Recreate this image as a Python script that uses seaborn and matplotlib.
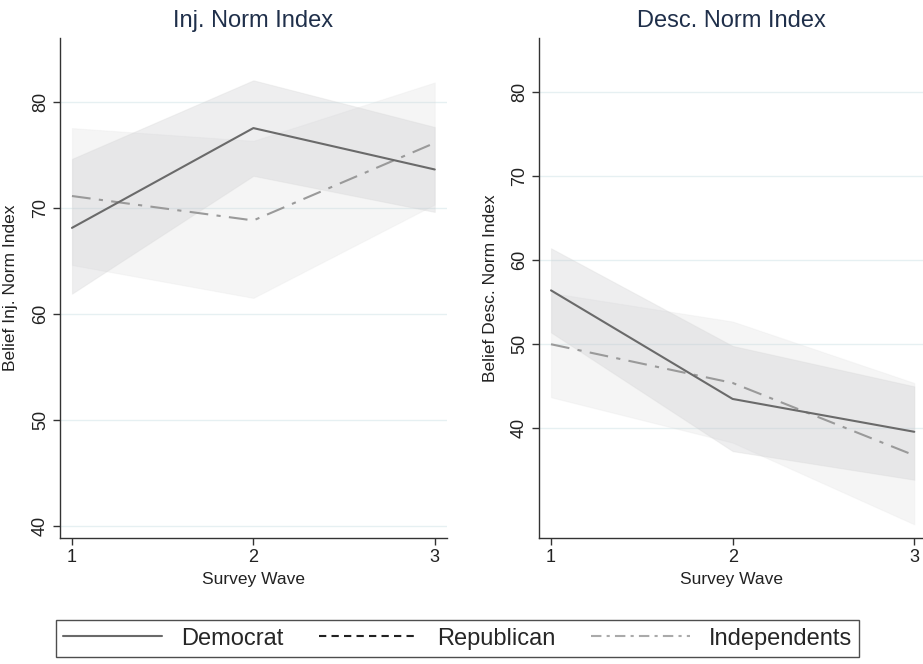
import numpy as np
import pandas as pd
import matplotlib
matplotlib.use("Agg")
import matplotlib.pyplot as plt
import seaborn as sns
from matplotlib.lines import Line2D

waves = [1, 2, 3]
groups = ["Democrat", "Republican", "Independents"]

# Injunctive norm index
inj_dem = [68.1, 77.5, 73.6]
inj_dem_lo = [61.9, 73.0, 69.6]
inj_dem_hi = [74.6, 82.0, 77.6]
inj_ind = [71.1, 68.8, 76.1]
inj_ind_lo = [64.6, 61.5, 70.3]
inj_ind_hi = [77.5, 76.3, 81.8]

# Descriptive norm index
desc_dem = [56.4, 43.5, 39.6]
desc_dem_lo = [51.4, 37.3, 33.9]
desc_dem_hi = [61.4, 49.8, 45.0]
desc_ind = [50.0, 45.4, 36.8]
desc_ind_lo = [43.7, 38.3, 28.6]
desc_ind_hi = [56.1, 52.7, 45.4]

titles = ["Inj. Norm Index", "Desc. Norm Index"]
ylabels = ["Belief Inj. Norm Index", "Belief Desc. Norm Index"]
yticks = [[40, 50, 60, 70, 80], [40, 50, 60, 70, 80]]

sns.set_theme(style="white")
plt.rcParams['font.family'] = ['Liberation Sans', 'DejaVu Sans']

fig = plt.figure(figsize=(9.23, 6.64), dpi=100)
ax1 = fig.add_axes([0.065, 0.19, 0.419, 0.753])
ax2 = fig.add_axes([0.584, 0.19, 0.416, 0.753])

dem_col = "#6a6a6a"
ind_col = "#9a9a9a"

panels = [
    (ax1, inj_dem, inj_dem_lo, inj_dem_hi, inj_ind, inj_ind_lo, inj_ind_hi, (38.9, 86.0), (0.934, 3.066)),
    (ax2, desc_dem, desc_dem_lo, desc_dem_hi, desc_ind, desc_ind_lo, desc_ind_hi, (27.0, 86.4), (0.934, 3.048)),
]

for i, (ax, dm, dlo, dhi, im, ilo, ihi, ylim, xlim) in enumerate(panels):
    for t in yticks[i]:
        ax.axhline(t, color="#e6f0f2", lw=1.0, zorder=0)
    ax.fill_between(waves, ilo, ihi, color="#d0d0d0", alpha=0.2, lw=0.8, edgecolor="#e0e0e0", zorder=1)
    ax.fill_between(waves, dlo, dhi, color="#c4c4c8", alpha=0.28, lw=0.8, edgecolor="#d6d6d6", zorder=2)
    df = pd.DataFrame({"wave": waves * 2,
                       "val": dm + im,
                       "grp": ["Democrat"] * 3 + ["Independents"] * 3})
    sns.lineplot(data=df[df.grp == "Democrat"], x="wave", y="val", ax=ax,
                 color=dem_col, lw=1.5, zorder=4, legend=False)
    sns.lineplot(data=df[df.grp == "Independents"], x="wave", y="val", ax=ax,
                 color=ind_col, lw=1.5, zorder=3, legend=False, dashes=False,
                 linestyle=(0, (9, 4, 2, 4)))
    ax.set_ylim(*ylim)
    ax.set_xlim(*xlim)
    ax.set_xticks(waves)
    ax.set_yticks(yticks[i])
    ax.set_yticklabels([str(t) for t in yticks[i]], rotation=90, va="center")
    ax.tick_params(axis="both", which="both", direction="out", length=5, width=1,
                   color="#333333", labelsize=13, labelcolor="#222222", bottom=True, left=True, pad=3)
    ax.set_title(titles[i], fontsize=17, color="#1f2f4a", pad=8)
    ax.set_xlabel("Survey Wave", fontsize=12.5, color="#222222", labelpad=4)
    ax.set_ylabel(ylabels[i], fontsize=12.5, color="#222222")
    ax.yaxis.set_label_coords(-0.108, 0.5)
    for s in ["top", "right"]:
        ax.spines[s].set_visible(False)
    for s in ["left", "bottom"]:
        ax.spines[s].set_color("#333333")
        ax.spines[s].set_linewidth(1.0)
    ax.set_facecolor("white")

handles = [
    Line2D([], [], color=dem_col, lw=1.5, linestyle="-"),
    Line2D([], [], color="#222222", lw=1.5, linestyle=(0, (3.5, 2.5))),
    Line2D([], [], color="#aaaaaa", lw=1.5, linestyle=(0, (5, 2.5, 1.5, 2.5))),
]
leg = fig.legend(handles, groups, loc="center", bbox_to_anchor=(0.4957, 0.0384),
                 ncol=3, frameon=True, fontsize=17, handlelength=4.2,
                 columnspacing=1.5, fancybox=False, borderpad=0.3, handletextpad=0.8)
leg.get_frame().set_edgecolor("#222222")
leg.get_frame().set_linewidth(1.0)

fig.savefig("out.png", dpi=100)
